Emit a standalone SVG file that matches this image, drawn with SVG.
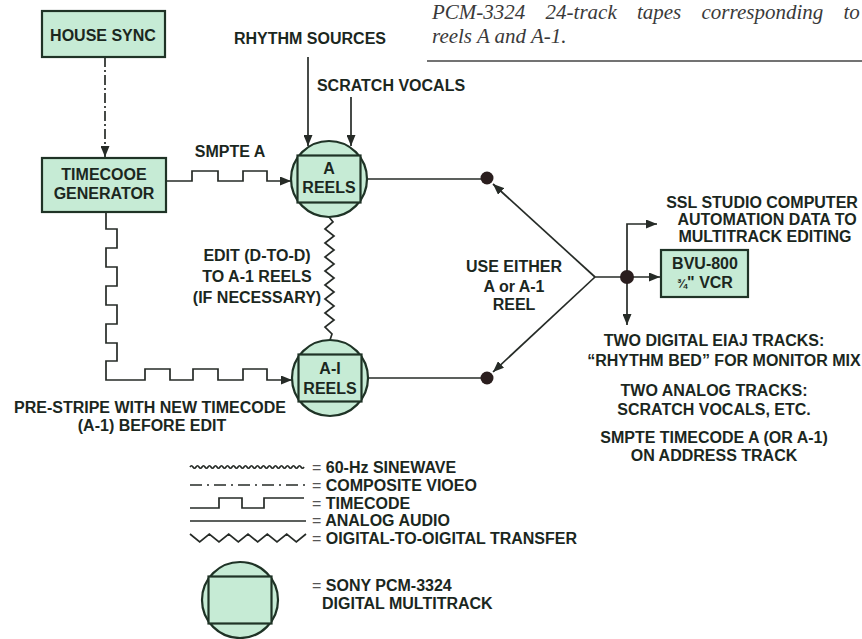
<svg xmlns="http://www.w3.org/2000/svg" width="862" height="639" viewBox="0 0 862 639">
<style>
.t{font-family:"Liberation Sans",Arial,sans-serif;font-weight:bold;font-size:16px;fill:#1b271e;text-anchor:middle}
.tl{font-family:"Liberation Sans",Arial,sans-serif;font-weight:bold;font-size:16px;fill:#1b271e;text-anchor:start}
.eq{font-weight:normal;fill:#555}
.cap{font-family:"Liberation Serif","Times New Roman",serif;font-style:italic;font-size:21px;fill:#3a3a3a}
.box{fill:#c6ebd5;stroke:#1f3326;stroke-width:2.2}
.ln{fill:none;stroke:#262b27;stroke-width:1.7}
.dot{fill:#2a1e1e}
</style>
<defs>
<marker id="ar" markerUnits="userSpaceOnUse" markerWidth="11" markerHeight="9" refX="11" refY="4.5" orient="auto">
<path d="M0,0 L11,4.5 L0,9 z" fill="#262b27"/>
</marker>
</defs>

<g id="caption">
<text class="cap" x="432" y="19" word-spacing="15">PCM-3324 24-track tapes corresponding to</text>
<text class="cap" x="432" y="43">reels A and A-1.</text>
<line x1="427" y1="61" x2="862" y2="61" stroke="#444" stroke-width="1.3"/>
</g>

<g id="connectors">
<path class="ln" d="M105,57 V157" stroke-dasharray="10 3 2 3" marker-end="url(#ar)"/>
<path class="ln" d="M308,57 V146" marker-end="url(#ar)"/>
<path class="ln" d="M351,97 V146" marker-end="url(#ar)"/>
<path class="ln" d="M166,181 H192 V171 H218 V181 H243 V171 H267 V181 H291" marker-end="url(#ar)"/>
<path class="ln" d="M106,213 V229 H117 V248 H106 V267 H117 V286 H106 V305 H117 V324 H106 V343 H117 V361 H106 V380 H145 V369 H170 V380 H193 V369 H218 V380 H243 V369 H267 V380 H292" marker-end="url(#ar)"/>
<polyline class="ln" points="329,217 333,222 325,229 334,236 325,243 334,250 325,257 334,264 325,271 334,278 325,285 334,292 325,299 334,306 325,313 334,320 325,327 332,334 330,340"/>
<path class="ln" d="M367,179 H487"/>
<path class="ln" d="M368,378 H487"/>
<path class="ln" d="M595,277 L493,184" marker-end="url(#ar)"/>
<path class="ln" d="M595,277 L493,372" marker-end="url(#ar)"/>
<path class="ln" d="M595,277 H660" marker-end="url(#ar)"/>
<path class="ln" d="M627,277 V224 H657" marker-end="url(#ar)"/>
<path class="ln" d="M627,277 V325" marker-end="url(#ar)"/>
</g>

<g id="house-sync">
<rect class="box" x="42" y="11" width="123" height="46"/>
<text class="t" x="103" y="41">HOUSE SYNC</text>
</g>

<g id="timecode-generator">
<rect class="box" x="42" y="158" width="124" height="54"/>
<text class="t" x="104" y="180">TIMECOOE</text>
<text class="t" x="104" y="199">GENERATOR</text>
</g>

<g id="a-reels">
<circle class="box" cx="329" cy="179" r="38"/>
<rect class="box" x="297.5" y="155.5" width="63" height="47"/>
<text class="t" x="329" y="174">A</text>
<text class="t" x="329" y="193">REELS</text>
</g>

<g id="a1-reels">
<circle class="box" cx="330" cy="378" r="38"/>
<rect class="box" x="298.5" y="354.5" width="63" height="47"/>
<text class="t" x="330" y="374">A-I</text>
<text class="t" x="330" y="394">REELS</text>
</g>

<g id="dot-a"><circle class="dot" cx="487" cy="178" r="6.5"/></g>
<g id="dot-a1"><circle class="dot" cx="487" cy="378" r="6.5"/></g>
<g id="junction"><circle class="dot" cx="627" cy="277" r="7"/></g>

<g id="bvu-800">
<rect class="box" x="661" y="250" width="87" height="47"/>
<text class="t" x="705" y="269">BVU-800</text>
<text class="t" x="705" y="288"><tspan font-size="12">¾</tspan>" VCR</text>
</g>

<g id="labels">
<text class="t" x="310" y="44">RHYTHM SOURCES</text>
<text class="t" x="391" y="91">SCRATCH VOCALS</text>
<text class="t" x="230" y="157">SMPTE A</text>
<text class="t" x="257" y="261">EDIT (D-TO-D)</text>
<text class="t" x="257" y="282">TO A-1 REELS</text>
<text class="t" x="257" y="303">(IF NECESSARY)</text>
<text class="t" x="514" y="272">USE EITHER</text>
<text class="t" x="514" y="292">A or A-1</text>
<text class="t" x="514" y="310">REEL</text>
<text class="t" x="762" y="208">SSL STUDIO COMPUTER</text>
<text class="t" x="767" y="225">AUTOMATION DATA TO</text>
<text class="t" x="765" y="242">MULTITRACK EDITING</text>
<text class="t" x="714" y="346">TWO DIGITAL EIAJ TRACKS:</text>
<text class="t" x="724" y="366">“RHYTHM BED” FOR MONITOR MIX</text>
<text class="t" x="714" y="396">TWO ANALOG TRACKS:</text>
<text class="t" x="714" y="415">SCRATCH VOCALS, ETC.</text>
<text class="t" x="714" y="443">SMPTE TIMECODE A (OR A-1)</text>
<text class="t" x="714" y="461">ON ADDRESS TRACK</text>
<text class="t" x="150" y="413">PRE-STRIPE WITH NEW TIMECODE</text>
<text class="t" x="152" y="431">(A-1) BEFORE EDIT</text>
</g>

<g id="legend">
<path class="ln" stroke-width="1.2" d="M190,467 q1.5,-2.5 3,0 t3,0 t3,0 t3,0 t3,0 t3,0 t3,0 t3,0 t3,0 t3,0 t3,0 t3,0 t3,0 t3,0 t3,0 t3,0 t3,0 t3,0 t3,0 t3,0 t3,0 t3,0 t3,0 t3,0 t3,0 t3,0 t3,0 t3,0 t3,0 t3,0 t3,0 t3,0 t3,0 t3,0 t3,0 t3,0 t3,0 t3,0"/>
<path class="ln" d="M190,485 H306" stroke-dasharray="12 5 2 5"/>
<path class="ln" d="M190,508 H219 V498 H242 V508 H264 V498 H304"/>
<path class="ln" d="M190,521 H306"/>
<polyline class="ln" points="190,534 199.7,542 209.3,534 219,542 228.7,534 238.3,542 248,534 257.7,542 267.3,534 277,542 286.7,534 296.3,542 306,534"/>
<text class="tl" x="312" y="473"><tspan class="eq">=</tspan> 60-Hz SINEWAVE</text>
<text class="tl" x="312" y="491"><tspan class="eq">=</tspan> COMPOSITE VIOEO</text>
<text class="tl" x="312" y="509"><tspan class="eq">=</tspan> TIMECODE</text>
<text class="tl" x="312" y="526"><tspan class="eq">=</tspan> ANALOG AUDIO</text>
<text class="tl" x="312" y="544"><tspan class="eq">=</tspan> OIGITAL-TO-OIGITAL TRANSFER</text>
<g id="legend-multitrack">
<circle class="box" cx="240" cy="600" r="38"/>
<rect class="box" x="208.5" y="576.5" width="63" height="47"/>
</g>
<text class="tl" x="312" y="591"><tspan class="eq">=</tspan> SONY PCM-3324</text>
<text class="tl" x="322" y="609">DIGITAL MULTITRACK</text>
</g>
</svg>
